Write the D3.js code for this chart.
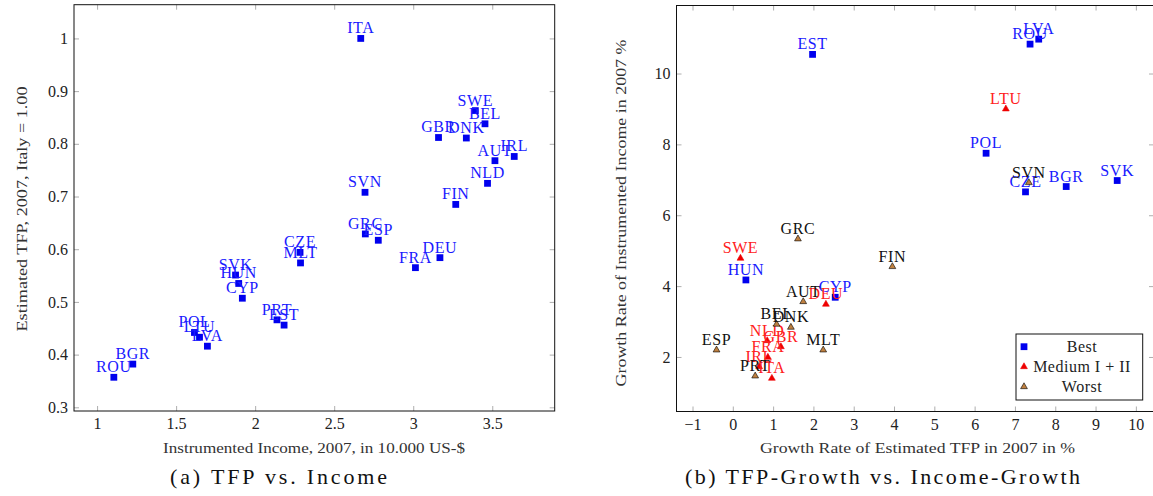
<!DOCTYPE html>
<html>
<head>
<meta charset="utf-8">
<script src="https://cdn.jsdelivr.net/npm/d3@7"></script>
<style>
  body { margin: 0; background: #fff; }
  text { font-family: "Liberation Serif", "DejaVu Serif", serif; }
</style>
</head>
<body>
<svg id="chart" width="1153" height="496"></svg>
<script>
// (a) TFP vs. Income
var incomeCountries = ["ITA","SWE","BEL","GBR","DNK","IRL","AUT","NLD","SVN","FIN","GRC","ESP","CZE",
  "MLT","DEU","FRA","SVK","HUN","CYP","PRT","EST","POL","LTU","LVA","BGR","ROU"];
var incomeValues = [2.668,3.393,3.454,3.160,3.336,3.639,3.517,3.470,2.695,3.269,2.697,2.779,2.284,
  2.287,3.169,3.014,1.876,1.896,1.919,2.138,2.183,1.616,1.648,1.698,1.226,1.106];
var tfpValues = [1.000,0.863,0.838,0.812,0.811,0.776,0.768,0.725,0.708,0.685,0.629,0.617,0.594,
  0.574,0.584,0.565,0.551,0.535,0.507,0.466,0.456,0.442,0.433,0.416,0.382,0.357];
var incomeTicks = [1, 1.5, 2, 2.5, 3, 3.5];
var tfpTicks = [0.3, 0.4, 0.5, 0.6, 0.7, 0.8, 0.9, 1];

// (b) TFP-Growth vs. Income-Growth
var bestCountries = ["EST","ROU","LVA","POL","CZE","BGR","SVK","HUN","CYP"];
var bestTfpGrowth = [1.979,7.375,7.590,6.284,7.262,8.272,9.537,0.325,2.541];
var bestIncomeGrowth = [10.54,10.83,10.97,7.75,6.66,6.81,6.98,4.174,3.685];

var mediumCountries = ["LTU","SWE","DEU","NLD","GBR","FRA","IRL","ITA"];
var mediumTfpGrowth = [6.774,0.190,2.310,0.853,1.193,0.870,0.654,0.969];
var mediumIncomeGrowth = [9.00,4.786,3.488,2.460,2.290,1.991,1.726,1.398];

var worstCountries = ["GRC","FIN","SVN","AUT","BEL","DNK","ESP","MLT","PRT"];
var worstTfpGrowth = [1.616,3.959,7.345,1.747,1.086,1.441,-0.404,2.243,0.555];
var worstIncomeGrowth = [5.332,4.55,6.92,3.561,2.923,2.838,2.197,2.197,1.463];

var groupNames = ["Best", "Medium I + II", "Worst"];
var tfpGrowthTicks = [-1, 0, 1, 2, 3, 4, 5, 6, 7, 8, 9, 10];
var incomeGrowthTicks = [2, 4, 6, 8, 10];

var svg = d3.select("#chart");

// draws inward ticks on all four sides plus the box
function drawFrame(x, y, xTicks, yTicks) {
  var x0 = x.range()[0], x1 = x.range()[1], y0 = y.range()[0], y1 = y.range()[1];
  var g = svg.append("g");
  g.append("g").attr("transform", "translate(0," + y0 + ")")
    .call(d3.axisBottom(x).tickValues(xTicks).tickSize(-5).tickPadding(7).tickFormat(d3.format("")));
  g.append("g").attr("transform", "translate(0," + y1 + ")")
    .call(d3.axisTop(x).tickValues(xTicks).tickSize(-5).tickFormat(""));
  g.append("g").attr("transform", "translate(" + x0 + ",0)")
    .call(d3.axisLeft(y).tickValues(yTicks).tickSize(-5).tickPadding(6).tickFormat(d3.format("")));
  g.append("g").attr("transform", "translate(" + x1 + ",0)")
    .call(d3.axisRight(y).tickValues(yTicks).tickSize(-5).tickFormat(""));
  g.selectAll(".domain").remove();
  g.selectAll("g").attr("font-family", null).attr("font-size", null);
  g.selectAll(".tick line").attr("stroke", "#999").attr("stroke-width", 0.8);
  g.selectAll(".tick text").attr("fill", "#222").style("font-size", "16px");
  g.append("rect")
    .attr("x", x0).attr("y", y1)
    .attr("width", x1 - x0).attr("height", y0 - y1)
    .attr("fill", "none").attr("stroke", "#111").attr("stroke-width", 1);
}

function axisText(txt, cx, cy, len, rotate) {
  svg.append("text")
    .attr("transform", "translate(" + cx + "," + cy + ")" + (rotate ? " rotate(-90)" : ""))
    .attr("text-anchor", "middle")
    .attr("dy", "0.35em")
    .attr("textLength", len).attr("lengthAdjust", "spacingAndGlyphs")
    .style("font-size", "15px").attr("fill", "#333")
    .text(txt);
}

// ---------- panel (a) ----------
var xA = d3.scaleLinear().domain([0.854, 3.895]).range([74, 554.7]);
var yA = d3.scaleLinear().domain([0.293, 1.064]).range([411, 4.7]);
drawFrame(xA, yA, incomeTicks, tfpTicks);

var idxA = d3.range(incomeCountries.length);
svg.append("g").selectAll("rect")
  .data(idxA).enter().append("rect")
    .attr("x", function (i) { return xA(incomeValues[i]) - 3.4; })
    .attr("y", function (i) { return yA(tfpValues[i]) - 3.4; })
    .attr("width", 6.8).attr("height", 6.8)
    .attr("fill", "#0000ee");
svg.append("g").selectAll("text")
  .data(idxA).enter().append("text")
    .attr("x", function (i) { return xA(incomeValues[i]); })
    .attr("y", function (i) { return yA(tfpValues[i]) - 5; })
    .attr("text-anchor", "middle")
    .style("font-size", "16px").style("letter-spacing", "0.6px")
    .attr("fill", "#1a1aff")
    .text(function (i) { return incomeCountries[i]; });

axisText("Instrumented Income, 2007, in 10.000 US-$", 314, 448, 302, false);
axisText("Estimated TFP, 2007, Italy = 1.00", 21.7, 209, 245, true);

// ---------- panel (b) ----------
var xB = d3.scaleLinear().domain([-1.397, 10.45]).range([676.5, 1154]);
var yB = d3.scaleLinear().domain([0.461, 11.92]).range([411.5, 5.5]);
drawFrame(xB, yB, tfpGrowthTicks, incomeGrowthTicks);

var groups = [
  {names: bestCountries, xs: bestTfpGrowth, ys: bestIncomeGrowth, shape: d3.symbolSquare, size: 46,
   fill: "#0000ee", stroke: "none", label: "#1a1aff"},
  {names: mediumCountries, xs: mediumTfpGrowth, ys: mediumIncomeGrowth, shape: d3.symbolTriangle, size: 20,
   fill: "#ee0000", stroke: "#ee0000", label: "#ff2020"},
  {names: worstCountries, xs: worstTfpGrowth, ys: worstIncomeGrowth, shape: d3.symbolTriangle, size: 20,
   fill: "#bf8040", stroke: "#000", label: "#111"}
];

groups.forEach(function (grp) {
  var idx = d3.range(grp.names.length);
  var g = svg.append("g");
  g.selectAll("path")
    .data(idx).enter().append("path")
      .attr("d", d3.symbol().type(grp.shape).size(grp.size))
      .attr("transform", function (i) { return "translate(" + xB(grp.xs[i]) + "," + yB(grp.ys[i]) + ")"; })
      .attr("fill", grp.fill)
      .attr("stroke", grp.stroke)
      .attr("stroke-width", 0.6);
  g.selectAll("text")
    .data(idx).enter().append("text")
      .attr("x", function (i) { return xB(grp.xs[i]); })
      .attr("y", function (i) { return yB(grp.ys[i]) - 5; })
      .attr("text-anchor", "middle")
      .style("font-size", "16px").style("letter-spacing", "0.6px")
      .attr("fill", grp.label)
      .text(function (i) { return grp.names[i]; });
});

axisText("Growth Rate of Estimated TFP in 2007 in %", 917.5, 448, 315, false);
axisText("Growth Rate of Instrumented Income in 2007 %", 620.7, 213, 347, true);

// legend
var legend = svg.append("g");
legend.append("rect")
  .attr("x", 1016).attr("y", 334).attr("width", 126.7).attr("height", 66)
  .attr("fill", "#fff").attr("stroke", "#111").attr("stroke-width", 1);
groups.forEach(function (grp, k) {
  var ly = 346.7 + k * 20;
  legend.append("path")
    .attr("d", d3.symbol().type(grp.shape).size(grp.size))
    .attr("transform", "translate(1024," + ly + ")")
    .attr("fill", grp.fill).attr("stroke", grp.stroke).attr("stroke-width", 0.6);
  legend.append("text")
    .attr("x", 1082).attr("y", ly).attr("dy", "0.35em")
    .attr("text-anchor", "middle")
    .style("font-size", "16px").style("letter-spacing", "0.5px").attr("fill", "#222")
    .text(groupNames[k]);
});

// captions
svg.append("text")
  .attr("x", 278.5).attr("y", 484)
  .attr("text-anchor", "middle")
  .attr("textLength", 217).attr("lengthAdjust", "spacing")
  .style("font-size", "22px").attr("fill", "#111")
  .text("(a) TFP vs. Income");
svg.append("text")
  .attr("x", 882.5).attr("y", 484)
  .attr("text-anchor", "middle")
  .attr("textLength", 395).attr("lengthAdjust", "spacing")
  .style("font-size", "22px").attr("fill", "#111")
  .text("(b) TFP-Growth vs. Income-Growth");
</script>
</body>
</html>
